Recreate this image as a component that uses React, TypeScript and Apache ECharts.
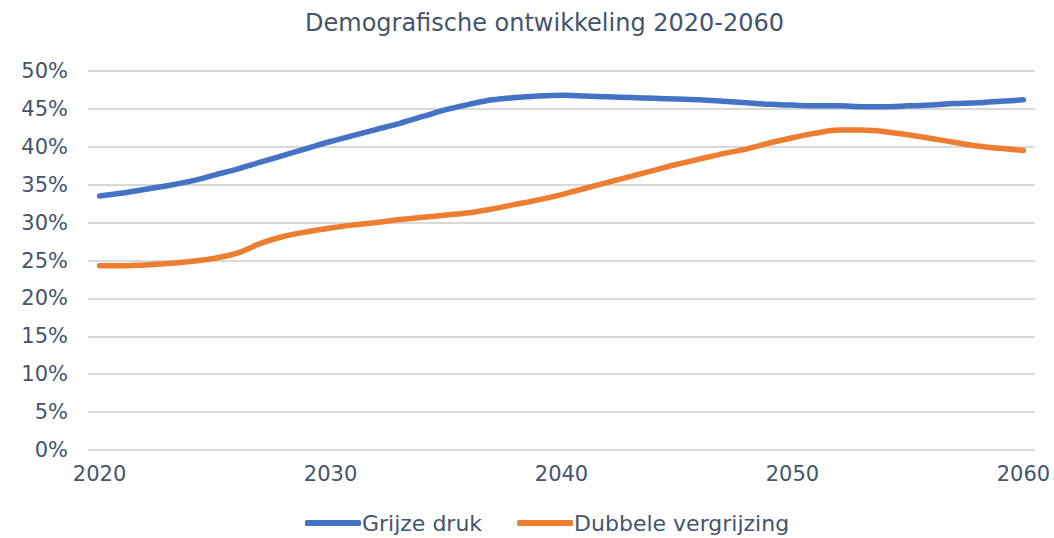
import React, { useEffect, useRef } from "react";
import * as echarts from "echarts";

const years: string[] = [];
for (let y = 2020; y <= 2060; y++) years.push(String(y));

const grijzeDruk = [
  33.5, 33.9, 34.4, 34.9, 35.5, 36.3, 37.1, 38.0, 38.9, 39.8,
  40.7, 41.5, 42.3, 43.1, 44.0, 44.9, 45.6, 46.2, 46.5, 46.7,
  46.8, 46.7, 46.6, 46.5, 46.4, 46.3, 46.2, 46.0, 45.8, 45.6,
  45.5, 45.4, 45.4, 45.3, 45.3, 45.4, 45.5, 45.7, 45.8, 46.0,
  46.2,
];

const dubbeleVergrijzing = [
  24.3, 24.3, 24.4, 24.6, 24.9, 25.3, 26.0, 27.3, 28.2, 28.8,
  29.3, 29.7, 30.0, 30.4, 30.7, 31.0, 31.3, 31.8, 32.4, 33.0,
  33.7, 34.5, 35.3, 36.1, 36.9, 37.7, 38.4, 39.1, 39.7, 40.5,
  41.2, 41.8, 42.2, 42.2, 42.0, 41.6, 41.1, 40.6, 40.1, 39.8,
  39.5,
];

const textColor = "#44546A";
const font = "DejaVu Sans";

export default function App() {
  const ref = useRef<HTMLDivElement>(null);
  useEffect(() => {
    if (!ref.current) return;
    const chart = echarts.init(ref.current, undefined, { renderer: "svg" });
    chart.setOption({
      animation: false,
      title: {
        text: "Demografische ontwikkeling 2020-2060",
        left: 300,
        top: 6,
        textStyle: { color: textColor, fontFamily: font, fontSize: 24, fontWeight: "normal" },
      },
      legend: {
        bottom: -1,
        left: 300,
        itemWidth: 56,
        itemHeight: 6,
        itemGap: 35,
        icon: "roundRect",
        textStyle: { color: textColor, fontFamily: font, fontSize: 22, padding: [0, 0, 0, -4] },
        data: ["Grijze druk", "Dubbele vergrijzing"],
      },
      grid: { left: 88, right: 19, top: 71, bottom: 88 },
      xAxis: {
        type: "category",
        data: years,
        boundaryGap: true,
        axisLine: { show: false },
        axisTick: { show: false },
        axisLabel: {
          interval: 9,
          color: textColor,
          fontFamily: font,
          fontSize: 21,
          margin: 13,
        },
      },
      yAxis: {
        type: "value",
        min: 0,
        max: 50,
        interval: 5,
        axisLabel: {
          formatter: "{value}%",
          color: textColor,
          fontFamily: font,
          fontSize: 21,
          margin: 20,
        },
        axisLine: { show: false },
        axisTick: { show: false },
        splitLine: { lineStyle: { color: "#D9D9D9", width: 2 } },
      },
      series: [
        {
          name: "Grijze druk",
          type: "line",
          data: grijzeDruk,
          smooth: 0.3,
          showSymbol: false,
          symbol: "none",
          lineStyle: { color: "#4472C4", width: 5.5, cap: "round" },
          itemStyle: { color: "#4472C4" },
        },
        {
          name: "Dubbele vergrijzing",
          type: "line",
          data: dubbeleVergrijzing,
          smooth: 0.3,
          showSymbol: false,
          symbol: "none",
          lineStyle: { color: "#ED7D31", width: 5.5, cap: "round" },
          itemStyle: { color: "#ED7D31" },
        },
      ],
    });
    return () => chart.dispose();
  }, []);
  return <div ref={ref} style={{ width: 1054, height: 538, position: "absolute", left: 0, top: 0 }} />;
}
